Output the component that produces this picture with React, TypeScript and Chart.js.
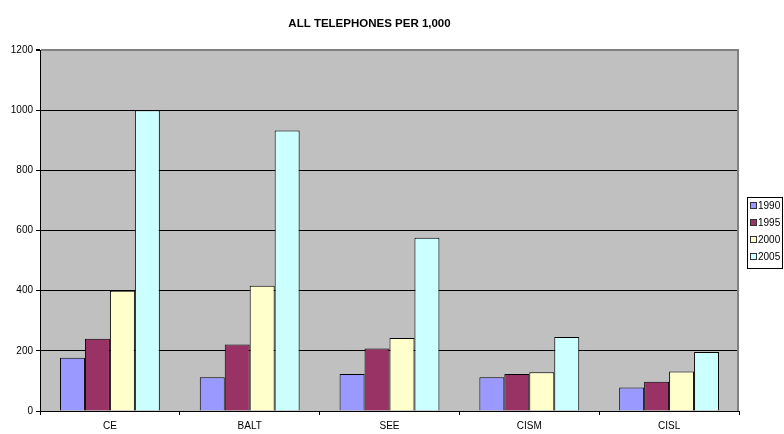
import React, { useEffect, useRef } from 'react';
import { Chart, registerables } from 'chart.js';

Chart.register(...registerables);

const FONT = "'Liberation Sans', Arial, sans-serif";

const titleText = 'ALL TELEPHONES PER 1,000';
const categories = ['CE', 'BALT', 'SEE', 'CISM', 'CISL'];
const seriesLabels = ['1990', '1995', '2000', '2005'];
const values1990 = [177, 112, 123, 112, 78];
const values1995 = [240, 221, 208, 123, 97];
const values2000 = [400, 416, 243, 129, 131];
const values2005 = [1000, 932, 576, 246, 196];
const seriesColors = ['#9999FF', '#993366', '#FFFFCC', '#CCFFFF'];
const yMin = 0;
const yMax = 1200;
const yStep = 200;

const plotBgPlugin = {
  id: 'plotBg',
  beforeDraw(chart: any) {
    const { ctx, chartArea } = chart;
    ctx.save();
    ctx.fillStyle = '#C0C0C0';
    ctx.fillRect(chartArea.left, chartArea.top, chartArea.right - chartArea.left, chartArea.bottom - chartArea.top);
    ctx.restore();
  },
  beforeDatasetsDraw(chart: any) {
    const { ctx, chartArea } = chart;
    ctx.save();
    ctx.strokeStyle = '#808080';
    ctx.lineWidth = 2;
    ctx.beginPath();
    ctx.moveTo(chartArea.right - 1, chartArea.top);
    ctx.lineTo(chartArea.right - 1, chartArea.bottom);
    ctx.stroke();
    ctx.restore();
  },
};

const boxLegendPlugin = {
  id: 'boxLegend',
  afterDraw(chart: any) {
    const { ctx } = chart;
    const ds = chart.data.datasets;
    const x = 747.5;
    const y = 197.5;
    const w = 35;
    const h = 71;
    ctx.save();
    ctx.fillStyle = '#FFFFFF';
    ctx.fillRect(x, y, w, h);
    ctx.strokeStyle = '#000000';
    ctx.lineWidth = 1;
    ctx.strokeRect(x, y, w, h);
    ctx.font = `10px ${FONT}`;
    ctx.textBaseline = 'middle';
    ctx.textAlign = 'left';
    ds.forEach((d: any, i: number) => {
      const cy = 206 + i * 17;
      ctx.fillStyle = d.backgroundColor;
      ctx.fillRect(751, cy - 3, 5, 5);
      ctx.strokeStyle = '#333333';
      ctx.strokeRect(750.5, cy - 3.5, 6, 6);
      ctx.fillStyle = '#000000';
      ctx.fillText(d.label, 758, cy + 0.5);
    });
    ctx.restore();
  },
};

export default function App() {
  const ref = useRef<HTMLCanvasElement | null>(null);

  useEffect(() => {
    if (!ref.current) return;
    const seriesValues = [values1990, values1995, values2000, values2005];
    const chart = new Chart(ref.current, {
      type: 'bar',
      data: {
        labels: categories,
        datasets: seriesLabels.map((label, i) => ({
          label,
          data: seriesValues[i],
          backgroundColor: seriesColors[i],
          borderColor: '#000000',
          borderWidth: 1,
          categoryPercentage: 100 / 140,
          barPercentage: 1,
        })),
      },
      options: {
        responsive: false,
        animation: false,
        devicePixelRatio: 1,
        layout: { padding: { left: 0, right: 45, top: 0, bottom: 0 } },
        plugins: {
          legend: { display: false },
          tooltip: { enabled: false },
          title: {
            display: true,
            text: titleText,
            color: '#000000',
            font: { family: FONT, size: 11.5, weight: 'bold' },
            padding: { top: 16.5, bottom: 19.7 },
          },
        },
        scales: {
          x: {
            offset: true,
            afterFit: (scale: any) => {
              scale.height = 23;
            },
            grid: {
              offset: true,
              drawOnChartArea: false,
              drawTicks: true,
              tickLength: 4,
              color: '#000000',
            },
            border: { color: '#000000', width: 1 },
            ticks: {
              color: '#000000',
              font: { family: FONT, size: 10 },
              padding: 5,
              maxRotation: 0,
            },
          },
          y: {
            min: yMin,
            max: yMax,
            afterFit: (scale: any) => {
              scale.width = 40;
            },
            ticks: {
              stepSize: yStep,
              color: '#000000',
              font: { family: FONT, size: 10 },
              padding: 3,
              callback: (v: any) => String(v),
            },
            grid: {
              color: (c: any) => (c.tick && c.tick.value === yMax ? '#808080' : '#000000'),
              lineWidth: (c: any) => (c.tick && c.tick.value === yMax ? 2 : 1),
              tickColor: '#000000',
              tickLength: 4,
            },
            border: { color: '#000000', width: 1 },
          },
        },
      },
      plugins: [plotBgPlugin, boxLegendPlugin],
    } as any);
    return () => chart.destroy();
  }, []);

  return (
    <div style={{ position: 'fixed', left: 0, top: 0, width: 784, height: 434, background: '#FFFFFF' }}>
      <canvas ref={ref} width={784} height={434} style={{ display: 'block' }} />
    </div>
  );
}
